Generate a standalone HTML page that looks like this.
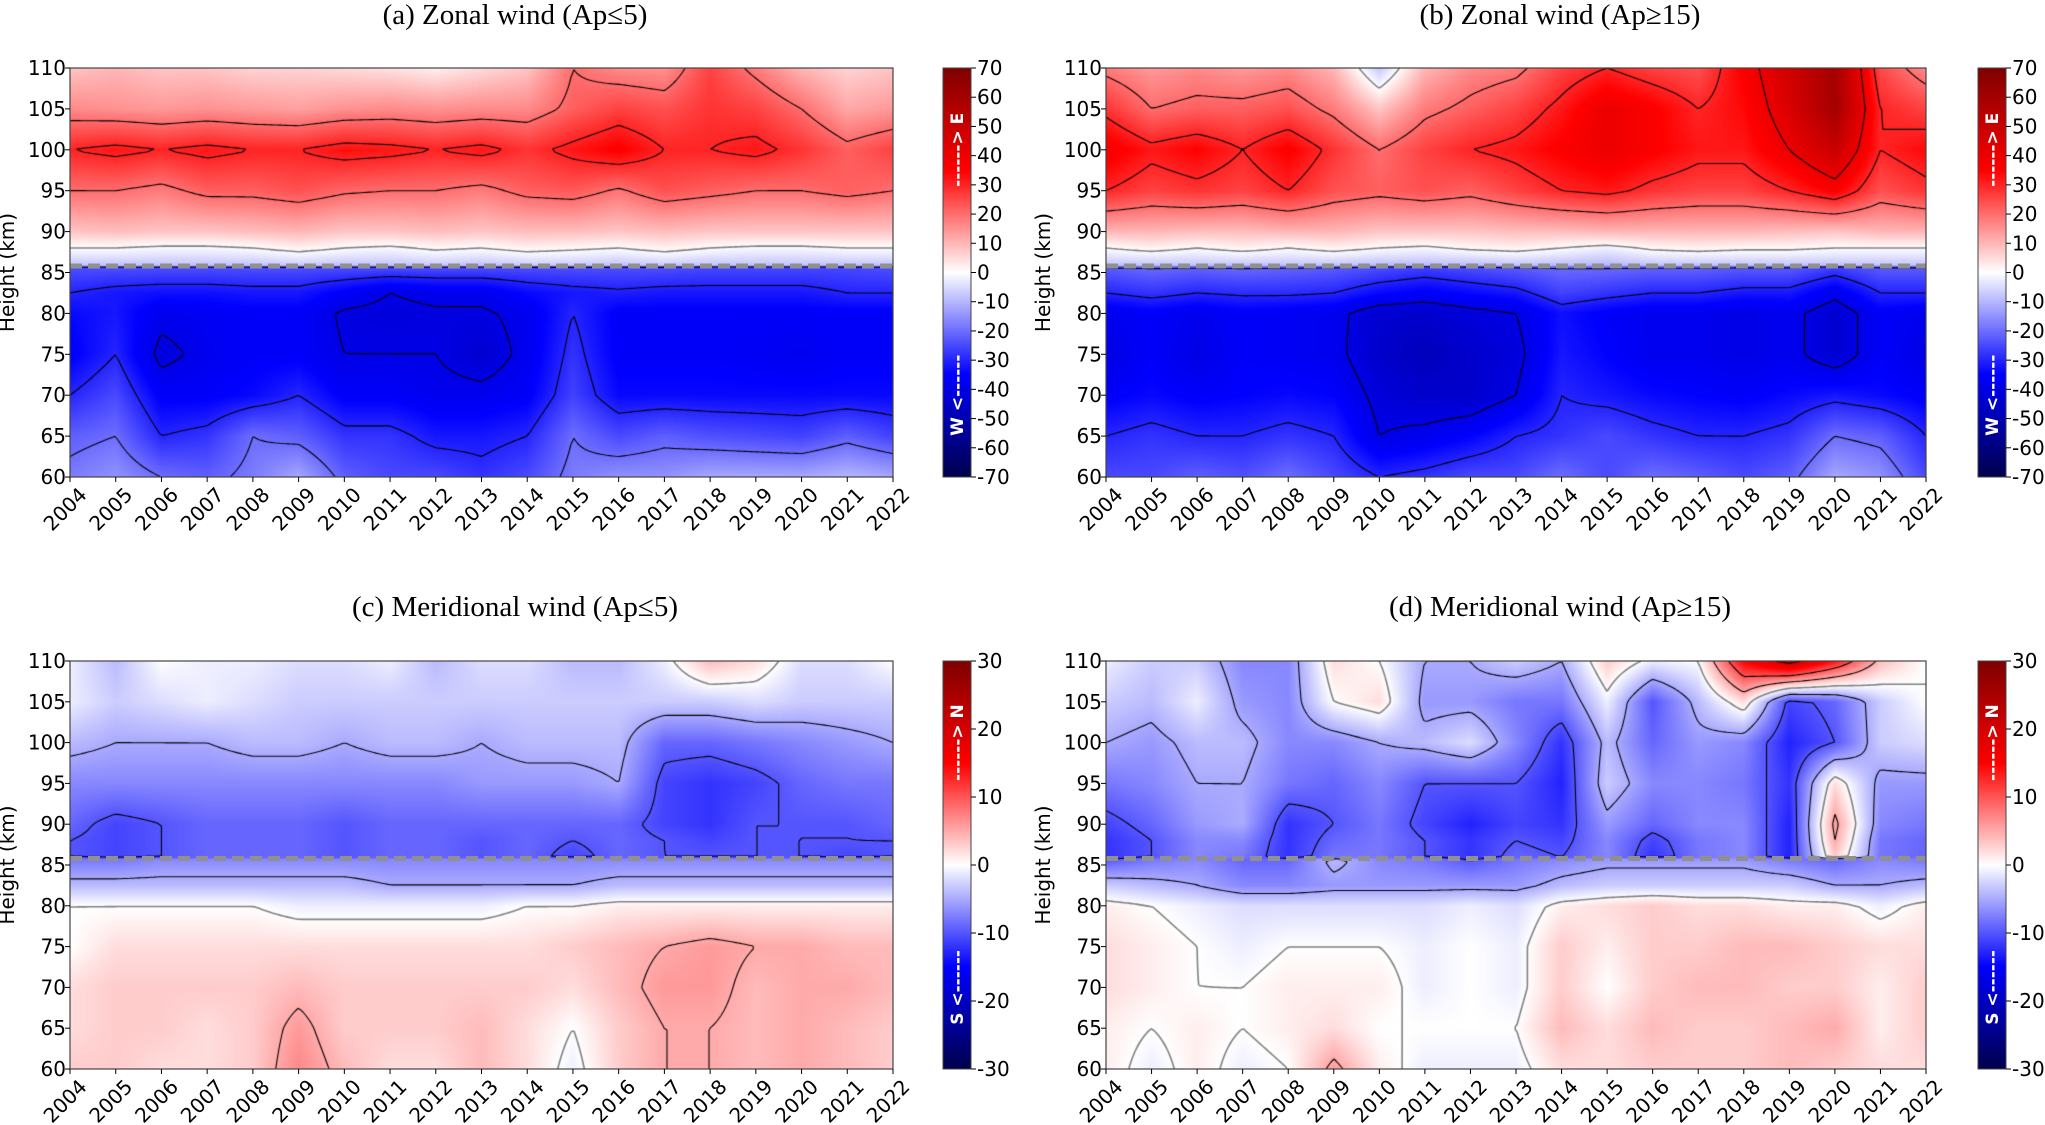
<!DOCTYPE html>
<html><head><meta charset="utf-8">
<style>
html,body{margin:0;padding:0;background:#fff;}
#root{position:relative;width:2045px;height:1125px;overflow:hidden;background:#fff;}
canvas{position:absolute;}
svg{position:absolute;left:0;top:0;}
</style></head>
<body>
<div id="root">
<canvas id="ca" width="823" height="409" style="left:70px;top:68px"></canvas>
<canvas id="cb" width="820" height="409" style="left:1106px;top:68px"></canvas>
<canvas id="cc" width="823" height="408" style="left:70px;top:661px"></canvas>
<canvas id="cd" width="820" height="408" style="left:1106px;top:661px"></canvas>
<canvas id="cba" width="28" height="409" style="left:943px;top:68px"></canvas>
<canvas id="cbb" width="28" height="409" style="left:1978px;top:68px"></canvas>
<canvas id="cbc" width="28" height="408" style="left:943px;top:661px"></canvas>
<canvas id="cbd" width="28" height="408" style="left:1978px;top:661px"></canvas>
<svg id="ov" width="2045" height="1125"></svg>
</div>
<script>
const years=[2004,2005,2006,2007,2008,2009,2010,2011,2012,2013,2014,2015,2016,2017,2018,2019,2020,2021,2022];
const heights=[60,65,70,75,80,82.5,85.7,85.9,88,90,95,100,105,110];
const heightTicks=[60,65,70,75,80,85,90,95,100,105,110];
const zonalTicks=[-70,-60,-50,-40,-30,-20,-10,0,10,20,30,40,50,60,70];
const meridTicks=[-30,-20,-10,0,10,20,30];
const zonalLevels=[-40,-30,-20,0,20,30,40];
const meridLevels=[-10,-5,0,5,10,20];
const boundaryHeight=85.8;
// rows from 60 km upward
const zonalA=[
[-18,-15,-20,-22,-18,-12,-22,-25,-25,-28,-25,-18,-15,-15,-12,-12,-12,-10,-12],
[-22,-20,-30,-28,-20,-22,-28,-28,-32,-32,-30,-20,-25,-22,-24,-25,-26,-22,-26],
[-30,-25,-36,-36,-34,-30,-36,-36,-38,-38,-36,-26,-34,-34,-34,-34,-34,-34,-34],
[-36,-30,-42,-38,-36,-36,-40,-40,-40,-44,-38,-28,-36,-36,-36,-37,-38,-36,-36],
[-34,-32,-38,-37,-36,-36,-41,-42,-41,-41,-38,-30,-36,-36,-36,-36,-36,-36,-36],
[-30,-32,-33,-33,-32,-32,-36,-40,-38,-38,-34,-32,-31,-32,-32,-32,-32,-30,-30],
[-24,-24,-24,-24,-24,-24,-24,-24,-24,-24,-24,-24,-24,-24,-25,-25,-25,-25,-24],
[-8,-8,-8,-8,-8,-7,-8,-8,-7,-8,-7,-7,-8,-7,-8,-8,-8,-8,-8],
[0,0,-1,-1,0,2,0,-1,1,0,2,1,0,2,0,-1,-1,0,0],
[8,9,8,8,9,10,8,8,9,8,9,9,8,9,8,8,8,8,8],
[20,20,18,22,22,24,21,20,20,18,22,23,19,24,22,20,20,22,20],
[30,32,30,32,30,30,33,32,30,32,28,32,36,30,30,32,28,22,26],
[16,15,14,15,14,13,15,16,15,16,16,22,26,24,28,26,20,12,14],
[8,10,8,8,6,6,5,4,2,5,8,20,16,15,26,18,10,6,8]];
const zonalB=[
[-25,-25,-22,-24,-20,-25,-30,-28,-25,-25,-20,-25,-20,-22,-25,-22,-12,-15,-25],
[-30,-28,-30,-30,-28,-30,-40,-38,-35,-30,-28,-25,-28,-30,-30,-28,-20,-22,-30],
[-36,-34,-36,-35,-34,-35,-42,-45,-45,-40,-30,-32,-34,-35,-36,-34,-32,-34,-36],
[-40,-36,-40,-36,-37,-38,-45,-48,-45,-42,-32,-35,-38,-38,-40,-38,-44,-36,-40],
[-38,-36,-38,-36,-37,-38,-44,-45,-42,-40,-33,-36,-38,-38,-40,-38,-44,-36,-38],
[-30,-28,-30,-29,-29,-30,-34,-36,-34,-32,-26,-28,-30,-30,-32,-32,-38,-30,-30],
[-22,-20,-21,-20,-21,-22,-24,-26,-24,-22,-20,-20,-21,-21,-22,-22,-26,-22,-22],
[-8,-8,-8,-8,-8,-8,-9,-9,-9,-8,-9,-10,-8,-8,-8,-8,-8,-8,-8],
[0,2,0,2,0,2,0,-1,1,2,0,-2,1,2,1,1,0,0,0],
[10,10,9,9,10,10,8,8,8,9,9,10,10,10,10,9,8,10,10],
[30,26,28,26,30,24,22,24,22,26,30,32,28,26,26,30,36,24,28],
[38,32,35,30,36,28,20,26,30,32,36,40,36,32,32,40,50,30,34],
[28,20,22,22,24,18,8,18,22,26,32,40,36,30,34,45,60,30,26],
[18,14,16,14,16,10,-8,10,16,18,26,30,26,24,36,48,60,25,16]];
const meridC=[
[3,3,2,2,3,7,4,2,2,4,2,-1,3,5,5,4,5,4,3],
[2,3,3,2,3,6,3,3,3,4,2,0,3,5,5,4,5,4,3],
[2,3,3,3,3,4,3,3,3,3,3,2,4,6,6,4,5,5,4],
[0,2,2,2,2,2,2,2,2,2,2,3,4,5,6,5,5,4,4],
[0,0,0,0,0,-1,-1,-1,-1,-1,0,0,1,1,1,1,1,1,1],
[-4,-4,-4,-4,-4,-4,-4,-5,-5,-5,-5,-5,-4,-4,-4,-4,-4,-4,-4],
[-8,-8,-7,-7,-7,-7,-7,-7,-7,-7,-7,-7,-7,-7,-7,-7,-7,-7,-7],
[-10,-11,-10,-9,-9,-9,-10,-9,-9,-10,-9,-11,-9,-10,-10,-10,-10,-11,-10],
[-10,-11,-10,-9,-9,-9,-10,-9,-9,-10,-9,-10,-9,-10,-11,-10,-10,-10,-10],
[-9,-11,-10,-9,-9,-9,-10,-9,-9,-9,-9,-9,-9,-11,-12,-10,-10,-10,-9],
[-7,-7,-7,-7,-7,-7,-7,-7,-7,-6,-6,-6,-5,-11,-12,-11,-9,-8,-8],
[-4,-5,-5,-5,-4,-4,-5,-4,-4,-5,-4,-4,-4,-9,-9,-8,-7,-6,-5],
[-1,-3,-2,-1,-2,-3,-3,-3,-3,-3,-3,-3,-3,-3,-3,-2,-3,-3,-3],
[-1,-4,0,-1,-1,-2,-2,-1,-4,-2,-2,-4,-4,-1,4,2,-2,-2,0]];
const meridD=[
[1,-1,1,-1,0,6,1,-1,-1,-1,2,2,3,3,3,4,3,2,2],
[1,0,1,0,1,2,0,0,0,0,4,2,4,3,3,4,5,1,3],
[2,1,0,0,1,1,1,-1,0,-1,3,0,3,4,4,3,3,1,3],
[2,1,0,-1,0,0,0,-1,0,-1,3,1,3,3,4,4,3,2,2],
[1,0,-1,-2,-2,-2,-2,-2,-1,-2,1,2,3,2,2,1,1,-1,1],
[-3,-4,-5,-7,-7,-6,-6,-6,-6,-6,-4,-3,-3,-3,-3,-3,-5,-5,-4],
[-10,-8,-7,-9,-9,-4,-7,-8,-10,-8,-7,-6,-6,-6,-6,-8,-9,-7,-8],
[-12,-10,-7,-8,-12,-8,-8,-10,-12,-9,-10,-7,-12,-8,-7,-13,3,-8,-9],
[-12,-10,-7,-7,-12,-9,-8,-10,-12,-10,-11,-7,-11,-8,-7,-13,5,-8,-9],
[-11,-9,-6,-5,-12,-10,-8,-11,-13,-11,-12,-6,-9,-7,-7,-13,6,-7,-8],
[-8,-7,-5,-5,-8,-9,-7,-10,-10,-10,-13,-3,-7,-7,-8,-12,2,-6,-6],
[-5,-6,-4,-4,-7,-7,-5,-4,-2,-7,-12,-4,-9,-6,-7,-13,-10,-3,-2],
[-3,-4,-1,-6,-7,0,2,-6,-6,-8,-8,-1,-10,-4,2,-11,-9,-3,0],
[-1,-3,-3,-7,-7,2,0,-5,-5,-3,-5,3,-1,0,15,22,14,4,0]];

function seismic(t){
  t=Math.max(0,Math.min(1,t));
  const st=[[0,0,0,77],[0.25,0,0,255],[0.5,255,255,255],[0.75,255,0,0],[1,128,0,0]];
  for(let i=0;i<4;i++){const a=st[i],b=st[i+1];
    if(t<=b[0]){const f=(t-a[0])/(b[0]-a[0]);return [a[1]+(b[1]-a[1])*f,a[2]+(b[2]-a[2])*f,a[3]+(b[3]-a[3])*f];}}
  return [128,0,0];
}
function sample(data,yr,h){
  let xi=Math.max(0,Math.min(years.length-1.0001,yr-years[0]));
  let i0=Math.floor(xi),fx=xi-i0;
  let j=0;while(j<heights.length-2&&h>heights[j+1])j++;
  let fy=(h-heights[j])/(heights[j+1]-heights[j]);fy=Math.max(0,Math.min(1,fy));
  const a=data[j][i0],b=data[j][i0+1],c=data[j+1][i0],d=data[j+1][i0+1];
  return (a*(1-fx)+b*fx)*(1-fy)+(c*(1-fx)+d*fx)*fy;
}
function drawPanel(id,data,vmax,levels){
  const cv=document.getElementById(id),ctx=cv.getContext('2d');
  const W=cv.width,H=cv.height;
  const img=ctx.createImageData(W,H);
  const xs=px=>years[0]+px/(W)*(years[years.length-1]-years[0]);
  const hs=py=>110-py/H*50;
  for(let y=0;y<H;y++){const h=hs(y+0.5);
    for(let x=0;x<W;x++){const v=sample(data,xs(x+0.5),h);
      const c=seismic((v+vmax)/(2*vmax));const k=(y*W+x)*4;
      img.data[k]=c[0];img.data[k+1]=c[1];img.data[k+2]=c[2];img.data[k+3]=255;}}
  ctx.putImageData(img,0,0);
  const S=3,nx=Math.ceil(W/S)+1,ny=Math.ceil(H/S)+1;
  const g=[];for(let j=0;j<ny;j++){g.push([]);for(let i=0;i<nx;i++)g[j].push(sample(data,xs(i*S),hs(j*S)));}
  levels.forEach(L=>{
    ctx.beginPath();
    ctx.strokeStyle=L===0?'#808080':'#000';ctx.lineWidth=L===0?1.6:1.1;
    for(let j=0;j<ny-1;j++)for(let i=0;i<nx-1;i++){
      const v=[g[j][i],g[j][i+1],g[j+1][i+1],g[j+1][i]];
      const P=[[i*S,j*S],[(i+1)*S,j*S],[(i+1)*S,(j+1)*S],[i*S,(j+1)*S]];
      const pts=[];
      for(let e=0;e<4;e++){const a=v[e],b=v[(e+1)%4];
        if((a<L)!==(b<L)){const f=(L-a)/(b-a);const p=P[e],q=P[(e+1)%4];pts.push([p[0]+(q[0]-p[0])*f,p[1]+(q[1]-p[1])*f]);}}
      if(pts.length>=2){ctx.moveTo(pts[0][0],pts[0][1]);ctx.lineTo(pts[1][0],pts[1][1]);}
      if(pts.length===4){ctx.moveTo(pts[2][0],pts[2][1]);ctx.lineTo(pts[3][0],pts[3][1]);}
    }
    ctx.stroke();
  });
}
function drawCbar(id,vmax){
  const cv=document.getElementById(id),ctx=cv.getContext('2d');
  for(let y=0;y<cv.height;y++){const c=seismic(1-y/(cv.height-1));
    ctx.fillStyle='rgb('+c.map(Math.round).join(',')+')';ctx.fillRect(0,y,cv.width,1);}
}
drawPanel('ca',zonalA,70,zonalLevels);
drawPanel('cb',zonalB,70,zonalLevels);
drawPanel('cc',meridC,30,meridLevels);
drawPanel('cd',meridD,30,meridLevels);
['cba','cbb'].forEach(i=>drawCbar(i,70));
['cbc','cbd'].forEach(i=>drawCbar(i,30));

const NS='http://www.w3.org/2000/svg';
const ov=document.getElementById('ov');
function el(tag,attrs,txt){const e=document.createElementNS(NS,tag);for(const k in attrs)e.setAttribute(k,attrs[k]);if(txt!==undefined)e.textContent=txt;ov.appendChild(e);return e;}
const panels=[
 {x:70,y:68,w:823,h:409,cbx:943,title:'(a) Zonal wind (Ap\u22645)',tx:515,ty:24,ticks:zonalTicks,vmax:70,lo:'W <------',hi:'------> E',key:'a'},
 {x:1106,y:68,w:820,h:409,cbx:1978,title:'(b) Zonal wind (Ap\u226515)',tx:1560,ty:24,ticks:zonalTicks,vmax:70,lo:'W <------',hi:'------> E',key:'b'},
 {x:70,y:661,w:823,h:408,cbx:943,title:'(c) Meridional wind (Ap\u22645)',tx:515,ty:616,ticks:meridTicks,vmax:30,lo:'S <------',hi:'------> N',key:'c'},
 {x:1106,y:661,w:820,h:408,cbx:1978,title:'(d) Meridional wind (Ap\u226515)',tx:1560,ty:616,ticks:meridTicks,vmax:30,lo:'S <------',hi:'------> N',key:'d'}];
const sans='"DejaVu Sans","Liberation Sans",sans-serif';
panels.forEach(p=>{
  const X=yr=>p.x+(yr-years[0])/(years[years.length-1]-years[0])*p.w;
  const Y=h=>p.y+(110-h)/50*p.h;
  let t=el('text',{x:p.tx,y:p.ty,'text-anchor':'middle','font-family':'"Liberation Serif",serif','font-size':29},p.title);
  
  let d=el('line',{x1:p.x,x2:p.x+p.w,y1:Y(boundaryHeight),y2:Y(boundaryHeight),stroke:'#909090','stroke-width':5,'stroke-dasharray':'12,6'});
  
  let fr=el('rect',{x:p.x,y:p.y,width:p.w,height:p.h,fill:'none',stroke:'#444','stroke-width':1.2});
  
  heightTicks.forEach(h=>{
    el('line',{x1:p.x-5,x2:p.x,y1:Y(h),y2:Y(h),stroke:'#000','stroke-width':1});
    let tl=el('text',{x:p.x-4,y:Y(h)+7,'text-anchor':'end','font-family':sans,'font-size':20},String(h));
    
  });
  years.forEach(yr=>{
    el('line',{x1:X(yr),x2:X(yr),y1:p.y+p.h,y2:p.y+p.h+5,stroke:'#000','stroke-width':1});
    let tl=el('text',{x:0,y:0,'text-anchor':'middle','font-family':sans,'font-size':20,transform:'translate('+X(yr)+','+(p.y+p.h+37)+') rotate(-45)'},String(yr));
    
  });
  let yl=el('text',{x:0,y:0,'text-anchor':'middle','font-family':sans,'font-size':20,transform:'translate('+(p.x-56)+','+(p.y+p.h/2)+') rotate(-90)'},'Height (km)');
  
  let cbf=el('rect',{x:p.cbx,y:p.y,width:28,height:p.h,fill:'none',stroke:'#444','stroke-width':1});
  
  p.ticks.forEach(v=>{const yy=p.y+(p.vmax-v)/(2*p.vmax)*p.h;
    el('line',{x1:p.cbx+28,x2:p.cbx+33,y1:yy,y2:yy,stroke:'#000','stroke-width':1});
    let tl=el('text',{x:p.cbx+34,y:yy+7,'font-family':sans,'font-size':20},String(v));
    
  });
  let hi=el('text',{x:0,y:0,'text-anchor':'middle','font-family':sans,'font-size':17,'font-weight':'bold',fill:'#fff',transform:'translate('+(p.cbx+20)+','+(p.y+p.h*0.2)+') rotate(-90)'},p.hi);
  
  let lo=el('text',{x:0,y:0,'text-anchor':'middle','font-family':sans,'font-size':17,'font-weight':'bold',fill:'#fff',transform:'translate('+(p.cbx+20)+','+(p.y+p.h*0.8)+') rotate(-90)'},p.lo);
  
});
</script>
</body></html>
